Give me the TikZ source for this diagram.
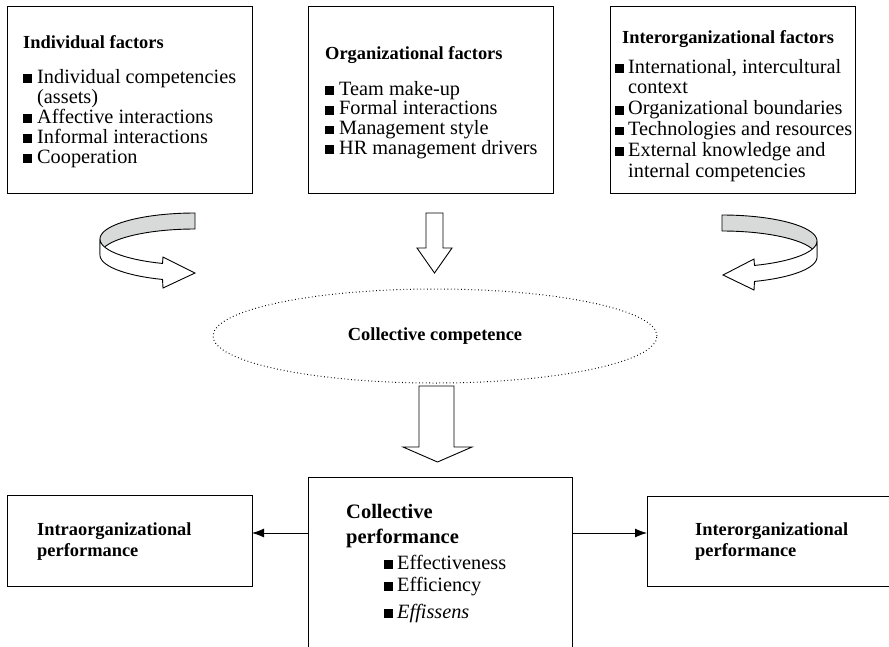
\documentclass[tikz,border=0pt]{standalone}
\usepackage{fontspec}
\setmainfont{Liberation Serif}
\usetikzlibrary{shapes.geometric,arrows.meta}
% list helpers: small black square bullet with hanging indent
\newlength\bulw
\setlength\bulw{14pt}
\newcommand\sqmark{\rule{0.43em}{0.43em}}
\newcommand\bitem[1]{\par\noindent\hangindent=\bulw\hangafter=1\makebox[\bulw][l]{\sqmark}#1}
\newcommand\ttl{\fontsize{18.4}{20}\selectfont\bfseries}
\newcommand\bigttl{\fontsize{20.5}{22}\selectfont\bfseries}
\newcommand\lst{\fontsize{20.3}{20}\selectfont\raggedright}
\definecolor{ribbon}{HTML}{D8D9D9}
\begin{document}
\begin{tikzpicture}[x=1pt,y=-1pt,line join=miter,
  box/.style={draw,line width=1pt,inner sep=0pt,anchor=north west},
  txt/.style={anchor=base west,inner sep=0pt},
  curl/.style={draw=black,line width=0.9pt},
  hollow/.style={draw=black,fill=white,line width=0.9pt},
  arr/.style={line width=0.9pt,-{Latex[length=12pt,width=9pt]}}]
\useasboundingbox (0,0) rectangle (889,646);

% ---- factor boxes ----
\node[box,minimum width=245pt,minimum height=187pt] (ind) at (7,6) {};
\node[box,minimum width=245pt,minimum height=187pt] (org) at (308,6) {};
\node[box,minimum width=245pt,minimum height=187pt] (inter) at (610,6) {};

\node[txt] (indT) at (23,48) {\ttl Individual factors};
\node[txt] (indL) at (23,83) {\parbox[t]{240pt}{\lst\setlength\bulw{14pt}%
  \bitem{Individual competencies\newline(assets)}
  \bitem{Affective interactions}
  \bitem{Informal interactions}
  \bitem{Cooperation}}};

\node[txt] (orgT) at (325,59) {\ttl Organizational factors};
\node[txt] (orgL) at (325,95) {\parbox[t]{240pt}{\lst\setlength\bulw{14pt}\baselineskip=19.7pt
  \bitem{Team make-up}
  \bitem{Formal interactions}
  \bitem{Management style}
  \bitem{HR management drivers}}};

\node[txt] (interT) at (622,43) {\ttl Interorganizational factors};
\node[txt] (interL) at (615,73) {\parbox[t]{250pt}{\lst\setlength\bulw{13pt}\baselineskip=20.8pt
  \bitem{International, intercultural\newline context}
  \bitem{Organizational boundaries}
  \bitem{Technologies and resources}
  \bitem{External knowledge and\newline internal competencies}}};

% ---- left ribbon arrow ----
\filldraw[curl,fill=ribbon] (195,213)
  -- plot[domain=90:180,samples=40] ({195+95*cos(\x)},{239-26*sin(\x)})
  -- (100,255)
  -- plot[domain=180:90,samples=40] ({195+95*cos(\x)},{255-26*sin(\x)})
  -- cycle;
\filldraw[curl,fill=white] (100,239)
  -- plot[domain=180:250,samples=40] ({195+95*cos(\x)},{239-26*sin(\x)})
  -- (163,257) -- (195,273) -- (163,288)
  -- plot[domain=250:180,samples=40] ({195+95*cos(\x)},{255-26*sin(\x)})
  -- cycle;

% ---- right ribbon arrow ----
\filldraw[curl,fill=ribbon] (722,215)
  -- plot[domain=90:180,samples=40] ({722-95*cos(\x)},{241-26*sin(\x)})
  -- (817,257)
  -- plot[domain=180:90,samples=40] ({722-95*cos(\x)},{257-26*sin(\x)})
  -- cycle;
\filldraw[curl,fill=white] (817,241)
  -- plot[domain=180:250,samples=40] ({722-95*cos(\x)},{241-26*sin(\x)})
  -- (754,259) -- (723,275) -- (754,290)
  -- plot[domain=250:180,samples=40] ({722-95*cos(\x)},{257-26*sin(\x)})
  -- cycle;

% ---- small hollow arrow under the organizational box ----
\filldraw[hollow] (426,213) -- (443,213) -- (443,248) -- (452,248)
  -- (434.5,273) -- (417,248) -- (426,248) -- cycle;

% ---- collective competence ----
\node[ellipse,draw,line width=1pt,dash pattern=on 0.8pt off 2.6pt,
  minimum width=444pt,minimum height=94pt,inner sep=0pt] (cc) at (435,336) {};
\node[inner sep=0pt] (ccT) at (cc.center) {\ttl Collective competence};

% ---- big hollow arrow ----
\filldraw[hollow] (419,386) -- (454,386) -- (454,447) -- (472,447)
  -- (437.5,462) -- (403,447) -- (419,447) -- cycle;

% ---- performance boxes ----
\node[box,minimum width=264pt,minimum height=230pt] (cp) at (308,477) {};
\node[box,minimum width=245pt,minimum height=91pt] (ip) at (7,495) {};
\node[box,minimum width=245pt,minimum height=90pt] (ep) at (647,496) {};

\node[txt] (cpT1) at (346,518) {\bigttl Collective};
\node[txt] (cpT2) at (346,543) {\bigttl performance};
\node[txt] (cpA) at (384,569) {\lst\makebox[13pt][l]{\sqmark}Effectiveness};
\node[txt] (cpB) at (384,591) {\lst\makebox[13pt][l]{\sqmark}Efficiency};
\node[txt] (cpC) at (384,618) {\lst\makebox[13pt][l]{\sqmark}\itshape Effissens};

\node[txt] (ipT1) at (37,535) {\ttl Intraorganizational};
\node[txt] (ipT2) at (37,556) {\ttl performance};
\node[txt] (epT1) at (695,535) {\ttl Interorganizational};
\node[txt] (epT2) at (695,556) {\ttl performance};

\coordinate (aL) at (252,533);
\coordinate (aR) at (647,533);
\draw[arr] (cp.west |- aL) -- (aL);
\draw[arr] (cp.east |- aR) -- (aR);
\end{tikzpicture}
\end{document}
